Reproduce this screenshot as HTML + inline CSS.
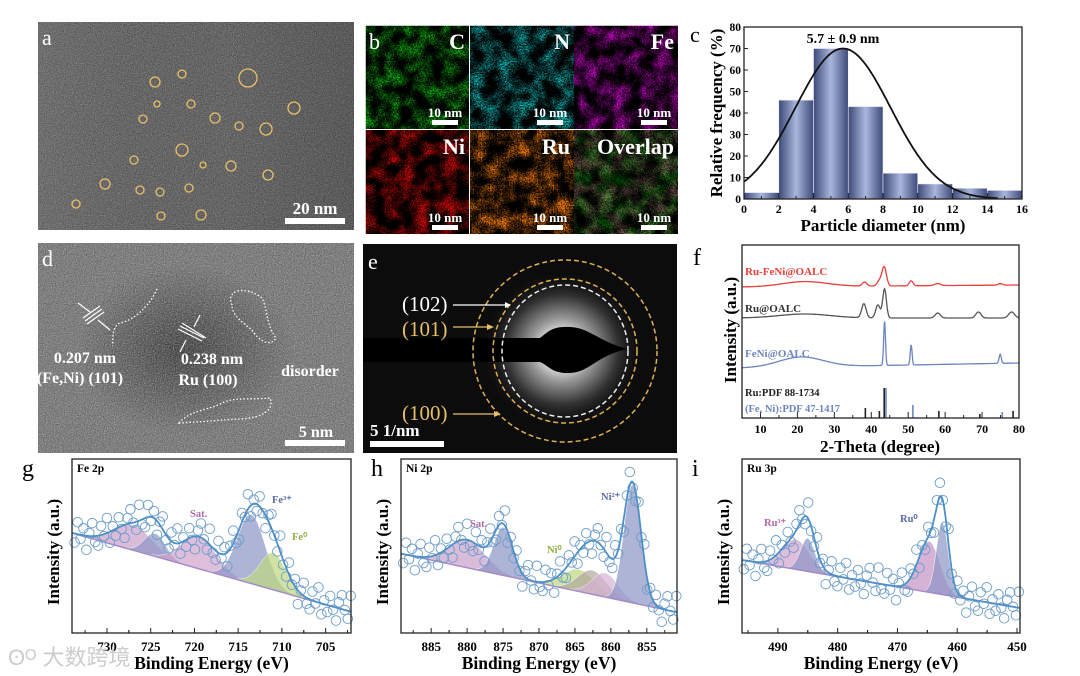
<!DOCTYPE html>
<html><head><meta charset="utf-8"><style>
html,body{margin:0;padding:0;background:#fff;width:1080px;height:676px;overflow:hidden}
svg{display:block;font-family:"Liberation Serif","Noto Serif CJK SC",serif}
.t{font-weight:bold}
</style></head><body>
<svg id="fig" width="1080" height="676" viewBox="0 0 1080 676" xmlns="http://www.w3.org/2000/svg">
<defs id="defs">
<filter id="grain" x="0" y="0" width="100%" height="100%"><feTurbulence type="fractalNoise" baseFrequency="0.9" numOctaves="2" seed="3"/><feColorMatrix type="matrix" values="0 0 0 0 0.6  0 0 0 0 0.6  0 0 0 0 0.6  0.9 0.9 0 0 -0.7"/></filter>
<filter id="grainD" x="0" y="0" width="100%" height="100%"><feTurbulence type="fractalNoise" baseFrequency="0.9" numOctaves="2" seed="5"/><feColorMatrix type="matrix" values="0 0 0 0 0  0 0 0 0 0  0 0 0 0 0  0.9 0.9 0 0 -0.75"/></filter>
<radialGradient id="glow" cx="0.5" cy="0.5" r="0.5"><stop offset="0.2" stop-color="#eee"/><stop offset="0.4" stop-color="#999"/><stop offset="0.7" stop-color="#333"/><stop offset="1" stop-color="#111" stop-opacity="0"/></radialGradient>
<radialGradient id="dark" cx="0.5" cy="0.5" r="0.5"><stop offset="0" stop-color="#000" stop-opacity="0.5"/><stop offset="1" stop-color="#000" stop-opacity="0"/></radialGradient>
<linearGradient id="barg" x1="0" x2="1"><stop offset="0" stop-color="#3d4a78"/><stop offset="0.5" stop-color="#a9b6dc"/><stop offset="1" stop-color="#3d4a78"/></linearGradient>
<linearGradient id="aShade" x1="0" x2="1"><stop offset="0" stop-color="#fff" stop-opacity="0.06"/><stop offset="0.6" stop-color="#000" stop-opacity="0"/><stop offset="1" stop-color="#000" stop-opacity="0.12"/></linearGradient>
</defs>

<g>
<rect x="38" y="22" width="316" height="208" fill="#656565"/>
<rect x="38" y="22" width="316" height="208" filter="url(#grain)" opacity="0.6"/>
<rect x="38" y="22" width="316" height="208" filter="url(#grainD)" opacity="0.6"/>
<rect x="38" y="22" width="316" height="208" fill="url(#aShade)"/>
<g id="aCircles" fill="none" stroke="#e8c06a" stroke-width="1.3"></g>
<rect x="285" y="218" width="60" height="6" fill="#fff"/>
<text x="315" y="214" font-size="17" fill="#fff" class="t" text-anchor="middle">20 nm</text>
<text x="42" y="45" font-size="22" fill="#fff">a</text>
</g>

<g id="panelB"></g>

<g>
<rect x="38" y="243" width="316" height="210" fill="#7a7a7a"/>
<ellipse cx="185" cy="350" rx="110" ry="85" fill="url(#dark)"/>
<rect x="38" y="243" width="316" height="210" filter="url(#grain)"/>
<rect x="38" y="243" width="316" height="210" filter="url(#grainD)" opacity="0.5"/>
<g fill="none" stroke="#fff" stroke-width="1.3" stroke-dasharray="1.5 2">
<path d="M157 289 C150 305,135 320,120 323 C114 325,112 335,113 346"/>
<path d="M232 305 C225 290,245 285,262 298 C268 310,266 325,276 338 C270 348,258 340,252 330 C240 320,232 315,232 305Z"/>
<path d="M179 423 C190 410,210 410,222 403 C235 397,244 400,270 398 C275 410,262 418,240 419 C220 420,200 422,179 423Z"/>
</g>
<g stroke="#fff" stroke-width="1.2"><line x1="83" y1="318" x2="100" y2="306"/><line x1="85" y1="321" x2="102" y2="309"/><line x1="87" y1="324" x2="104" y2="312"/>
<line x1="178" y1="329" x2="202" y2="341"/><line x1="180" y1="326" x2="204" y2="338"/><line x1="182" y1="323" x2="206" y2="338"/>
<line x1="78" y1="303" x2="90" y2="312"/><line x1="110" y1="330" x2="98" y2="320"/><line x1="200" y1="315" x2="194" y2="327"/><line x1="180" y1="352" x2="186" y2="340"/></g>
<g fill="#fff" class="t" font-size="16" text-anchor="middle">
<text x="85" y="363">0.207 nm</text>
<text x="80" y="383">(Fe,Ni) (101)</text>
<text x="212" y="364">0.238 nm</text>
<text x="208" y="385">Ru (100)</text>
<text x="310" y="376">disorder</text>
<text x="316" y="437">5 nm</text>
</g>
<rect x="285" y="440" width="60" height="6" fill="#fff"/>
<text x="42" y="266" font-size="22" fill="#fff">d</text>
</g>

<g>
<rect x="363" y="244" width="314" height="209" fill="#0c0c0c"/>
<ellipse cx="562" cy="350" rx="80" ry="78" fill="url(#glow)"/>
<path d="M363 338 L540 338 C548 332,552 326,570 327 C590 328,596 340,627 349 C596 356,590 372,570 373 C552 374,548 365,540 362 L363 362Z" fill="#000"/>
<ellipse cx="565" cy="351" rx="92" ry="91" fill="none" stroke="#e0b050" stroke-width="1.5" stroke-dasharray="5 3"/>
<ellipse cx="565" cy="351" rx="72" ry="72" fill="none" stroke="#e0b050" stroke-width="1.5" stroke-dasharray="5 3"/>
<ellipse cx="565" cy="351" rx="63" ry="66" fill="none" stroke="#eee" stroke-width="1.5" stroke-dasharray="5 3"/>
<g font-size="21">
<text x="402" y="311" fill="#fff">(102)</text>
<text x="402" y="336" fill="#e6be66">(101)</text>
<text x="402" y="420" fill="#e6be66">(100)</text>
</g>
<g stroke-width="1.3"><line x1="453" y1="305" x2="505" y2="305" stroke="#fff"/><path d="M505 302 L511 305 L505 308Z" fill="#fff"/>
<line x1="453" y1="327" x2="487" y2="327" stroke="#e6be66"/><path d="M487 324 L494 327 L487 330Z" fill="#e6be66"/>
<line x1="453" y1="414" x2="494" y2="414" stroke="#e6be66"/><path d="M494 411 L501 414 L494 417Z" fill="#e6be66"/></g>
<text x="370" y="436" font-size="17" fill="#fff" class="t">5 1/nm</text>
<rect x="370" y="441" width="74" height="6" fill="#fff"/>
<text x="368" y="269" font-size="22" fill="#fff">e</text>
</g>

<g id="panelC"></g>
<g id="panelF"></g>
<g id="panelG"></g>
<g id="panelH"></g>
<g id="panelI"></g>
<text x="8" y="665" font-size="22" fill="#ccc" font-family="Liberation Sans, Noto Sans CJK SC, sans-serif">ʘᴼ 大数跨境</text>
</svg>
<script>
const particleX = [[155,82,5],[182,74,4],[248,78,9],[294,108,6],[143,119,4],[157,104,3],[191,104,4],[215,118,5],[239,126,4],[266,129,6],[182,150,6],[134,160,4],[203,165,3],[231,166,5],[268,175,5],[105,184,5],[140,190,4],[160,192,4],[189,188,4],[76,204,4],[161,216,4],[201,215,5]];
const histBins = [0,2,4,6,8,10,12,14];
const histFreq = [3,46,70,43,12,7,5,4];
const fitMean = 5.7, fitSigma = 2.74, fitPeak = 70;
const xrdRuFeNiPeaks = [[38.2,4,0.6],[42.2,5,0.6],[43.5,19,0.6],[50.8,5,0.5],[58,2,0.8],[75,1.5,0.6]];
const xrdRuPeaks = [[38,14,0.6],[41.8,13,0.6],[43.6,29,0.5],[58,5,0.7],[69,6,0.7],[78,6,0.8]];
const xrdFeNiPeaks = [[43.6,44,0.25],[50.8,20,0.25],[74.9,9,0.3]];
const refRu = [[38.4,10],[42.2,7],[43.5,30],[58.3,7],[69.4,4],[78.4,7]];
const refFeNi = [[43.7,30],[51,13],[75.2,6]];
const feBase = [734,100,702,21];
const fePeaks = [[727,25,2.2,'#c9a0c9'],[724.5,23,1.2,'#8c94c4'],[719.5,32,2,'#d1a2cd'],[713.5,69,1.6,'#8c94c4'],[711,37,1.5,'#bcd77e']];
const niBase = [889,79,851,21];
const niPeaks = [[880,28,2.5,'#c9a0c9'],[875,48,1.3,'#8c94c4'],[864.5,22,2.2,'#bcd77e'],[862.6,24,2,'#b0a79a'],[860.8,24,1.8,'#d6b0d6'],[857,118,1.2,'#8c94c4']];
const ruBase = [496,73,449.5,25];
const ruPeaks = [[487,30,2.3,'#d1a2cd'],[485,33,1.2,'#8c94c4'],[464.7,51,1.8,'#c493c4'],[462.5,72,1.0,'#8c94c4']];
const scatterJitter = [9,-12,4,-7,14,-3,-13,6,10,-9,2,-15,11,-4,7,-10,3,13,-6,-14,0,8,-16,5];

const NS='http://www.w3.org/2000/svg';
function mk(tag,attrs,parent){const e=document.createElementNS(NS,tag);for(const k in attrs)e.setAttribute(k,attrs[k]);parent.appendChild(e);return e;}
function txt(parent,x,y,s,size,attrs){const e=mk('text',Object.assign({x:x,y:y,'font-size':size},attrs||{}),parent);e.textContent=s;return e;}

const ac=document.getElementById('aCircles');
particleX.forEach(p=>{const c=mk('circle',{cx:p[0],cy:p[1],r:p[2]},ac);

});

const defs=document.getElementById('defs');
const opaque='1 0 0 0 0  0 1 0 0 0  0 0 1 0 0  0 0 0 0 1';
function edsFilter(id,seed,col){const f=mk('filter',{id:id,x:0,y:0,width:'100%',height:'100%','color-interpolation-filters':'sRGB'},defs);
mk('feTurbulence',{type:'fractalNoise',baseFrequency:0.07,numOctaves:2,seed:seed,result:'b0'},f);
mk('feColorMatrix',{in:'b0',type:'matrix',values:opaque,result:'blob'},f);
mk('feTurbulence',{type:'fractalNoise',baseFrequency:0.75,numOctaves:1,seed:seed+20,result:'s0'},f);
mk('feColorMatrix',{in:'s0',type:'matrix',values:opaque,result:'spk'},f);
mk('feComposite',{in:'blob',in2:'spk',operator:'arithmetic',k1:3,k2:0,k3:0,k4:-0.55,result:'p'},f);
mk('feColorMatrix',{in:'p',type:'matrix',values:`${col[0]} 0 0 0 0  ${col[1]} 0 0 0 0  ${col[2]} 0 0 0 0  0 0 0 0 1`},f);}
edsFilter('fG',2,[0.05,0.75,0.05]);edsFilter('fC',7,[0.05,0.75,0.75]);edsFilter('fM',9,[0.85,0,0.85]);
edsFilter('fR',11,[0.9,0.03,0.03]);edsFilter('fO',13,[1.0,0.5,0]);edsFilter('fV',9,[0.9,0.65,0.6]);

const B=document.getElementById('panelB');
const tiles=[['C','fG',365,25],['N','fC',470,25],['Fe','fM',574,25],['Ni','fR',365,130],['Ru','fO',470,130],['Overlap','fV',574,130]];
tiles.forEach(t=>{const g=mk('g',{},B);


mk('rect',{x:t[2],y:t[3],width:104,height:104,fill:'#000'},g);
mk('rect',{x:t[2],y:t[3],width:104,height:104,filter:'url(#'+t[1]+')'},g);
if(t[0]==='Overlap'){mk('rect',{x:t[2],y:t[3],width:104,height:104,filter:'url(#fG)',opacity:0.5},g);}
txt(g,t[2]+100,t[3]+24,t[0],22,{fill:'#fff','text-anchor':'end',class:'t'});
txt(g,t[2]+80,t[3]+92,'10 nm',13,{fill:'#fff','text-anchor':'middle',class:'t'});
mk('rect',{x:t[2]+67,y:t[3]+95,width:26,height:5,fill:'#fff'},g);});
mk('rect',{x:365,y:25,width:314,height:210,fill:'none',stroke:'#fff','stroke-width':1.5},B);
txt(B,369,49,'b',22,{fill:'#fff'});

(function(){
const P=document.getElementById('panelC');
const X=v=>744+v*(1022-744)/16, Y=v=>199-v*(199-27)/80;
histBins.forEach((b,i)=>{const r=mk('rect',{x:X(b),y:Y(histFreq[i]),width:X(b+2)-X(b),height:Y(0)-Y(histFreq[i]),fill:'url(#barg)',stroke:'#eef','stroke-width':0.6},P);

});
let d='';for(let v=0;v<=14.6;v+=0.1){const f=fitPeak*Math.exp(-Math.pow(v-fitMean,2)/(2*fitSigma*fitSigma));d+=(d?'L':'M')+X(v).toFixed(1)+' '+Y(f).toFixed(1);}
const fl=mk('path',{d:d,fill:'none',stroke:'#111','stroke-width':1.8},P);


mk('rect',{x:744,y:27,width:278,height:172,fill:'none',stroke:'#222','stroke-width':1.3},P);
for(let v=0;v<=80;v+=10){mk('line',{x1:744,x2:748,y1:Y(v),y2:Y(v),stroke:'#222'},P);txt(P,741,Y(v)+4,String(v),11.5,{'text-anchor':'end',class:'t'});}
for(let v=0;v<=16;v+=1){mk('line',{x1:X(v),x2:X(v),y1:199,y2:v%2?196:193,stroke:'#222'},P);if(v%2==0)txt(P,X(v),213,String(v),12,{'text-anchor':'middle',class:'t'});}
txt(P,883,231,'Particle diameter (nm)',17,{'text-anchor':'middle',class:'t'});
txt(P,0,0,'Relative frequency (%)',17,{'text-anchor':'middle',class:'t',transform:'translate(722,113) rotate(-90)'});
txt(P,843,43,'5.7 ± 0.9 nm',14,{'text-anchor':'middle',class:'t'});
txt(P,690,42,'c',22,{});
})();

(function(){
const P=document.getElementById('panelF');
const X=v=>742+(v-5)*(1019-742)/75;
function draw(peaks,baseY,hump,color,name){let d='';for(let t=5;t<=80;t+=0.1){let v=hump[0]*Math.exp(-Math.pow(t-hump[1],2)/(2*hump[2]*hump[2]))+baseY[0]+(baseY[1]-baseY[0])*(t-5)/75;peaks.forEach(p=>{v-=p[1]*Math.exp(-Math.pow(t-p[0],2)/(2*p[2]*p[2]));});d+=(d?'L':'M')+X(t).toFixed(1)+' '+v.toFixed(1);}
const e=mk('path',{d:d,fill:'none',stroke:color,'stroke-width':1.3},P);

}
draw(xrdRuFeNiPeaks,[287,285],[-5,22,6],'#e8403a','xrd-ru-feni');
draw(xrdRuPeaks,[318,318],[-4,22,7],'#555','xrd-ru');
draw(xrdFeNiPeaks,[368,363],[-10,21,6],'#6d86c0','xrd-feni');
refRu.forEach(r=>{const l=mk('line',{x1:X(r[0]),x2:X(r[0]),y1:418,y2:418-r[1],stroke:'#222','stroke-width':1.6},P);

});
refFeNi.forEach(r=>{const l=mk('line',{x1:X(r[0])+1,x2:X(r[0])+1,y1:418,y2:418-r[1],stroke:'#6d86c0','stroke-width':1.6},P);

});
mk('rect',{x:742,y:245,width:277,height:173,fill:'none',stroke:'#222','stroke-width':1.3},P);
for(let v=10;v<=80;v+=5){mk('line',{x1:X(v),x2:X(v),y1:418,y2:v%10?415:412,stroke:'#222'},P);if(v%10==0)txt(P,X(v),433,String(v),12,{'text-anchor':'middle',class:'t'});}
txt(P,880,452,'2-Theta (degree)',17,{'text-anchor':'middle',class:'t'});
txt(P,0,0,'Intensity (a.u.)',17,{'text-anchor':'middle',class:'t',transform:'translate(736,330) rotate(-90)'});
txt(P,745,275,'Ru-FeNi@OALC',11,{fill:'#e8403a',class:'t'});
txt(P,745,312,'Ru@OALC',11,{fill:'#333',class:'t'});
txt(P,745,357,'FeNi@OALC',11,{fill:'#6d86c0',class:'t'});
txt(P,745,396,'Ru:PDF  88-1734',10.5,{fill:'#222',class:'t'});
txt(P,745,412,'(Fe, Ni):PDF 47-1417',10.5,{fill:'#6d86c0',class:'t'});
txt(P,693,265,'f',24,{});
})();

function xps(id,box,e0,e1,ticks,minorStep,base,peaks,label,letter,lx,ly,notes){
const P=document.getElementById(id);
const [bx,by,bw,bh]=box;
const X=e=>bx+(e0-e)*bw/(e0-e1);
const Y=v=>by+bh-v;
const baseV=e=>base[1]+(base[3]-base[1])*(e-base[0])/(base[2]-base[0]);
const step=(e0-e1)/300;
peaks.forEach(p=>{const lo=Math.min(e0,p[0]+4*p[2]),hi=Math.max(e1,p[0]-4*p[2]);const pts=[];
for(let e=lo;e>=hi;e-=step/2){pts.push([e,baseV(e)+p[1]*Math.exp(-Math.pow(e-p[0],2)/(2*p[2]*p[2]))]);}
let d='M'+X(lo).toFixed(1)+' '+Y(baseV(lo)).toFixed(1);pts.forEach(q=>{d+='L'+X(q[0]).toFixed(1)+' '+Y(q[1]).toFixed(1);});d+='L'+X(hi).toFixed(1)+' '+Y(baseV(hi)).toFixed(1)+'Z';
const e=mk('path',{d:d,fill:p[3],'fill-opacity':0.7,stroke:'#fff','stroke-width':0.5},P);

});
const bl=mk('line',{x1:X(e0),y1:Y(baseV(e0)),x2:X(e1),y2:Y(baseV(e1)),stroke:'#a58bc4','stroke-width':1.5},P);


const fit=e=>{let v=baseV(e);peaks.forEach(p=>{v+=p[1]*Math.exp(-Math.pow(e-p[0],2)/(2*p[2]*p[2]));});return v;};
let k=0;for(let e=e0-0.3;e>e1;e-=(e0-e1)/95){const j=scatterJitter[k%scatterJitter.length];k++;
const c=mk('circle',{cx:X(e).toFixed(1),cy:(Y(fit(e))+j).toFixed(1),r:4.8,fill:'none',stroke:'#6b9cc9','stroke-width':0.9},P);

}
let d='';for(let e=e0;e>=e1;e-=step){d+=(d?'L':'M')+X(e).toFixed(1)+' '+Y(fit(e)).toFixed(1);}
const fl=mk('path',{d:d,fill:'none',stroke:'#4d8fc6','stroke-width':1.8},P);


mk('rect',{x:bx,y:by,width:bw,height:bh,fill:'none',stroke:'#222','stroke-width':1.3},P);
ticks.forEach(t=>{mk('line',{x1:X(t),x2:X(t),y1:by+bh,y2:by+bh-5,stroke:'#222'},P);txt(P,X(t),by+bh+18,String(t),13,{'text-anchor':'middle',class:'t'});
const m=t-minorStep;if(m>e1)mk('line',{x1:X(m),x2:X(m),y1:by+bh,y2:by+bh-3,stroke:'#222'},P);const m2=t+minorStep;if(m2<e0)mk('line',{x1:X(m2),x2:X(m2),y1:by+bh,y2:by+bh-3,stroke:'#222'},P);});
txt(P,bx+bw/2,by+bh+36,'Binding Energy (eV)',17.5,{'text-anchor':'middle',class:'t'});
txt(P,0,0,'Intensity (a.u.)',17,{'text-anchor':'middle',class:'t',transform:'translate('+(bx-13)+','+(by+bh/2+6)+') rotate(-90)'});
txt(P,bx+5,by+13,label,11.5,{class:'t'});
txt(P,lx,ly,letter,24,{});
notes.forEach(n=>{txt(P,n[0],n[1],n[2],10.5,{fill:n[3],class:'t'});});
}
xps('panelG',[72,459,279,174],734,702.1,[730,725,720,715,710,705],2.5,feBase,fePeaks,'Fe 2p','g',22,476,[[190,517,'Sat.','#b06aa8'],[272,503,'Fe³⁺','#5a6aa8'],[292,540,'Fe⁰','#8fb040']]);
xps('panelH',[401,459,276,174],889.2,850.8,[885,880,875,870,865,860,855],2.5,niBase,niPeaks,'Ni 2p','h',371,476,[[470,527,'Sat.','#b06aa8'],[601,500,'Ni²⁺','#5a6aa8'],[547,553,'Ni⁰','#8fb040']]);
xps('panelI',[742,459,278,174],496,449.5,[490,480,470,460,450],5,ruBase,ruPeaks,'Ru 3p','i',692,476,[[764,526,'Ru³⁺','#b06aa8'],[900,522,'Ru⁰','#5a6aa8']]);
</script>
</body></html>
